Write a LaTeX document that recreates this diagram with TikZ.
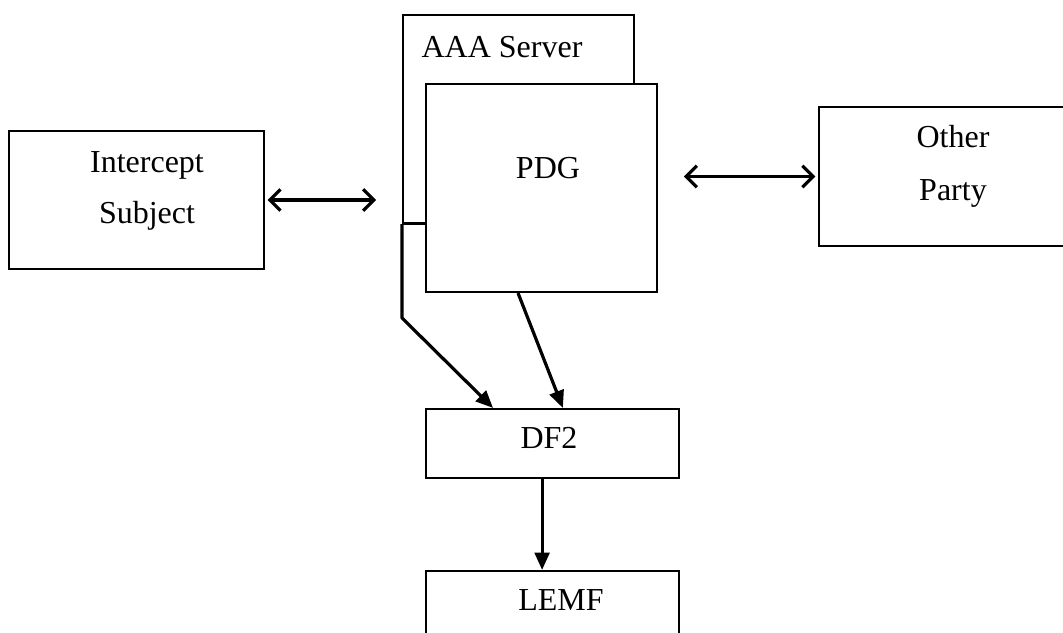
\documentclass[tikz,border=0pt]{standalone}
\usepackage{fontspec}
\setmainfont{Liberation Serif}
\usetikzlibrary{arrows.meta}

\begin{document}
\begin{tikzpicture}[
            x = 0.375pt, y = -0.375pt,
            every node/.style={font=\fontsize{12}{20}\selectfont},
            box/.style={draw, fill=white, line width=.75pt, inner sep=0pt},
            txt/.style={anchor=base, inner sep=0pt},
            flow/.style={line width=1.2pt, -{Triangle[length=6.5pt, width=5.5pt]}},
            both/.style={line width=1.2pt, {Straight Barb[length=4pt, width=8pt]}-{Straight Barb[length=4pt, width=8pt]}},
            ]

        \clip (0,0) rectangle (1063,633);

        \node[box, minimum width=95.6pt, minimum height=51.75pt] (subject) at (136.5,200) {};
        \node[box, minimum width=86.6pt, minimum height=78pt] (aaa) at (518.5,119) {};
        \node[box, minimum width=86.6pt, minimum height=78pt] (pdg) at (541.5,188) {};
        \node[box, minimum width=96pt, minimum height=52.1pt] (other) at (947,176.5) {};
        \node[box, minimum width=94.9pt, minimum height=25.9pt] (df2) at (552.5,443.5) {};
        \node[box, minimum width=94.9pt, minimum height=25.9pt] (lemf) at (552.5,605.5) {};

        \node[txt] (subjectA) at (147,172) {Intercept};
        \node[txt] (subjectB) at (147,223) {Subject};
        \node[txt] (aaaT) at (502,57) {AAA Server};
        \node[txt] (pdgT) at (548,178) {PDG};
        \node[txt] (otherA) at (953,147) {Other};
        \node[txt] (otherB) at (953,200) {Party};
        \node[txt] (df2T) at (549,448) {DF2};
        \node[txt] (lemfT) at (561,610) {LEMF};

        \draw[both, shorten <=1pt, shorten >=9.75pt] (subject.east) -- (subject.east -| aaa.west);
        \draw[both, shorten <=1pt, shorten >=9.75pt] (other.west) -- (other.west -| pdg.east);
        \draw[line width=.75pt] (aaa.south west) -- (aaa.south west -| pdg.west);
        \draw[flow, line join=round] (aaa.south west) -- ++(0,94) -- ([xshift=-22.3pt]df2.north);
        \draw[flow] ([xshift=-8.8pt]pdg.south) -- ([xshift=3.9pt]df2.north);
        \draw[flow] ([xshift=-3.9pt]df2.south) -- ([xshift=-3.9pt]lemf.north);
    \end{tikzpicture}
\end{document}
